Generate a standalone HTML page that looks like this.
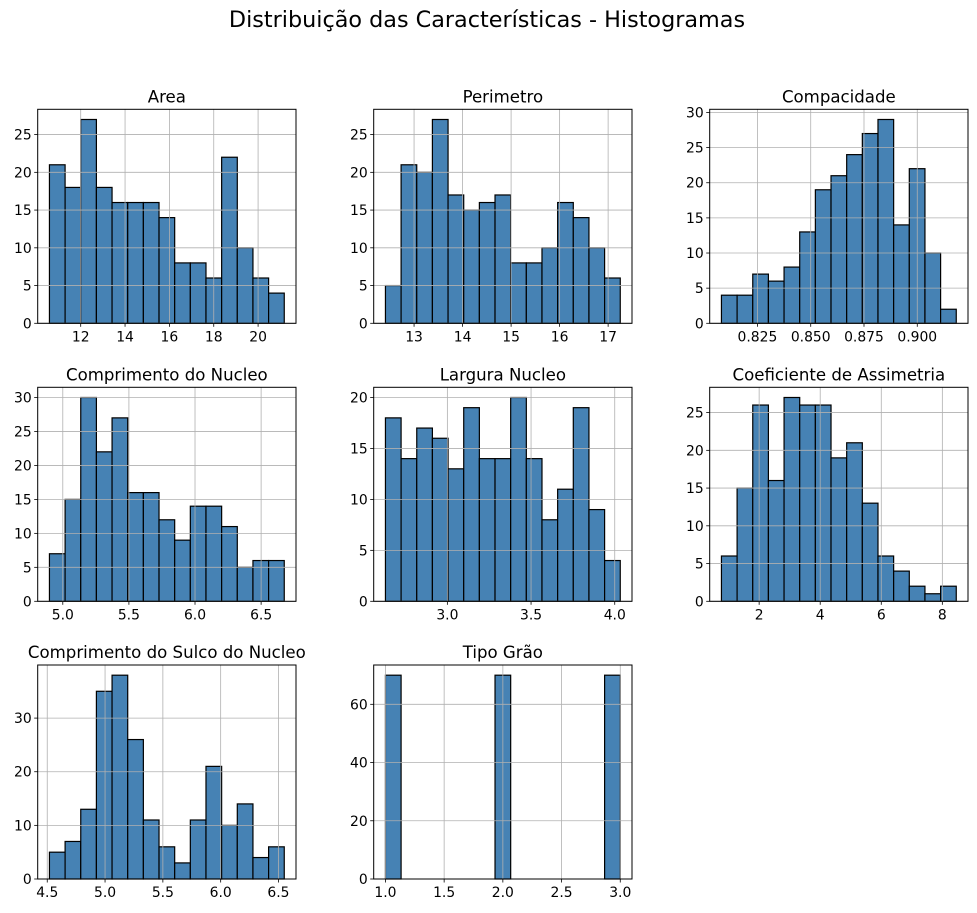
<!DOCTYPE html>
<html><head><meta charset="utf-8"><style>
body{margin:0;background:#fff}
svg{display:block;font-family:"DejaVu Sans","Liberation Sans",sans-serif}
</style></head><body>
<svg id="fig" width="977" height="913" viewBox="0 0 977 913">
<text x="487" y="27" text-anchor="middle" font-size="22.3" fill="#000">Distribuição das Características - Histogramas</text>
</svg>
<script>
const titles=["Area","Perimetro","Compacidade","Comprimento do Nucleo","Largura Nucleo","Coeficiente de Assimetria","Comprimento do Sulco do Nucleo","Tipo Grão"];
const dataMin=[10.59,12.41,0.8081,4.899,2.63,0.7651,4.519,1];
const dataMax=[21.18,17.25,0.9183,6.675,4.033,8.456,6.55,3];
const countsArea=[21,18,27,18,16,16,16,14,8,8,6,22,10,6,4];
const countsPerimetro=[5,21,20,27,17,15,16,17,8,8,10,16,14,10,6];
const countsCompacidade=[4,4,7,6,8,13,19,21,24,27,29,14,22,10,2];
const countsComprimento=[7,15,30,22,27,16,16,12,9,14,14,11,5,6,6];
const countsLargura=[18,14,17,16,13,19,14,14,20,14,8,11,19,9,4];
const countsAssimetria=[6,15,26,16,27,26,26,19,21,13,6,4,2,1,2];
const countsSulco=[5,7,13,35,38,26,11,6,3,11,21,10,14,4,6];
const countsTipo=[70,0,0,0,0,0,0,70,0,0,0,0,0,0,70];
const xTicks=[[12,14,16,18,20],[13,14,15,16,17],[0.825,0.85,0.875,0.9],[5,5.5,6,6.5],[3,3.5,4],[2,4,6,8],[4.5,5,5.5,6,6.5],[1,1.5,2,2.5,3]];
const xTickLabels=[["12","14","16","18","20"],["13","14","15","16","17"],["0.825","0.850","0.875","0.900"],["5.0","5.5","6.0","6.5"],["3.0","3.5","4.0"],["2","4","6","8"],["4.5","5.0","5.5","6.0","6.5"],["1.0","1.5","2.0","2.5","3.0"]];
const yTicks=[[0,5,10,15,20,25],[0,5,10,15,20,25],[0,5,10,15,20,25,30],[0,5,10,15,20,25,30],[0,5,10,15,20],[0,5,10,15,20,25],[0,10,20,30],[0,20,40,60]];
const allCounts=[countsArea,countsPerimetro,countsCompacidade,countsComprimento,countsLargura,countsAssimetria,countsSulco,countsTipo];
const colX=[37.7,373.7,709.7], rowY=[109.3,387.3,665], W=258.3, H=214;
const NS="http://www.w3.org/2000/svg", svg=document.getElementById('fig');
function mk(t,a,p){const e=document.createElementNS(NS,t);for(const k in a)e.setAttribute(k,a[k]);(p||svg).appendChild(e);return e;}
allCounts.forEach((counts,i)=>{
  const x0=colX[i%3], y0=rowY[Math.floor(i/3)];
  const g=mk('g',{});
  
  
  const lo=dataMin[i],hi=dataMax[i],span=hi-lo;
  const xl=lo-span*0.05, xh=hi+span*0.05;
  const ymax=Math.max(...counts)*1.05;
  const sx=v=>x0+(v-xl)/(xh-xl)*W, sy=v=>y0+H-v/ymax*H;
  const n=counts.length, bw=span/n;
  counts.forEach((c,j)=>{ if(c<=0)return;
    const r=mk('rect',{x:sx(lo+j*bw),y:sy(c),width:sx(lo+(j+1)*bw)-sx(lo+j*bw),height:sy(0)-sy(c),fill:'#4682b4',stroke:'#000','stroke-width':1.2},g);
    
    
  });
  xTicks[i].forEach((t,k)=>{const X=sx(t);
    mk('line',{x1:X,x2:X,y1:y0,y2:y0+H,stroke:'#b0b0b0','stroke-width':0.8},g);
    mk('line',{x1:X,x2:X,y1:y0+H,y2:y0+H+3.5,stroke:'#000','stroke-width':0.8},g);
    const tx=mk('text',{x:X,y:y0+H+18,'text-anchor':'middle','font-size':13.9,fill:'#000'},g);tx.textContent=xTickLabels[i][k];
    
    
  });
  yTicks[i].forEach(t=>{const Y=sy(t);
    mk('line',{x1:x0,x2:x0+W,y1:Y,y2:Y,stroke:'#b0b0b0','stroke-width':0.8},g);
    mk('line',{x1:x0-3.5,x2:x0,y1:Y,y2:Y,stroke:'#000','stroke-width':0.8},g);
    const tx=mk('text',{x:x0-6,y:Y+5,'text-anchor':'end','font-size':13.9,fill:'#000'},g);tx.textContent=t;
    
    
  });
  mk('rect',{x:x0,y:y0,width:W,height:H,fill:'none',stroke:'#000','stroke-width':1},g);
  const tt=mk('text',{x:x0+W/2,y:y0-7,'text-anchor':'middle','font-size':16.6,fill:'#000'},g);tt.textContent=titles[i];
  
  
});
</script>
</body></html>
